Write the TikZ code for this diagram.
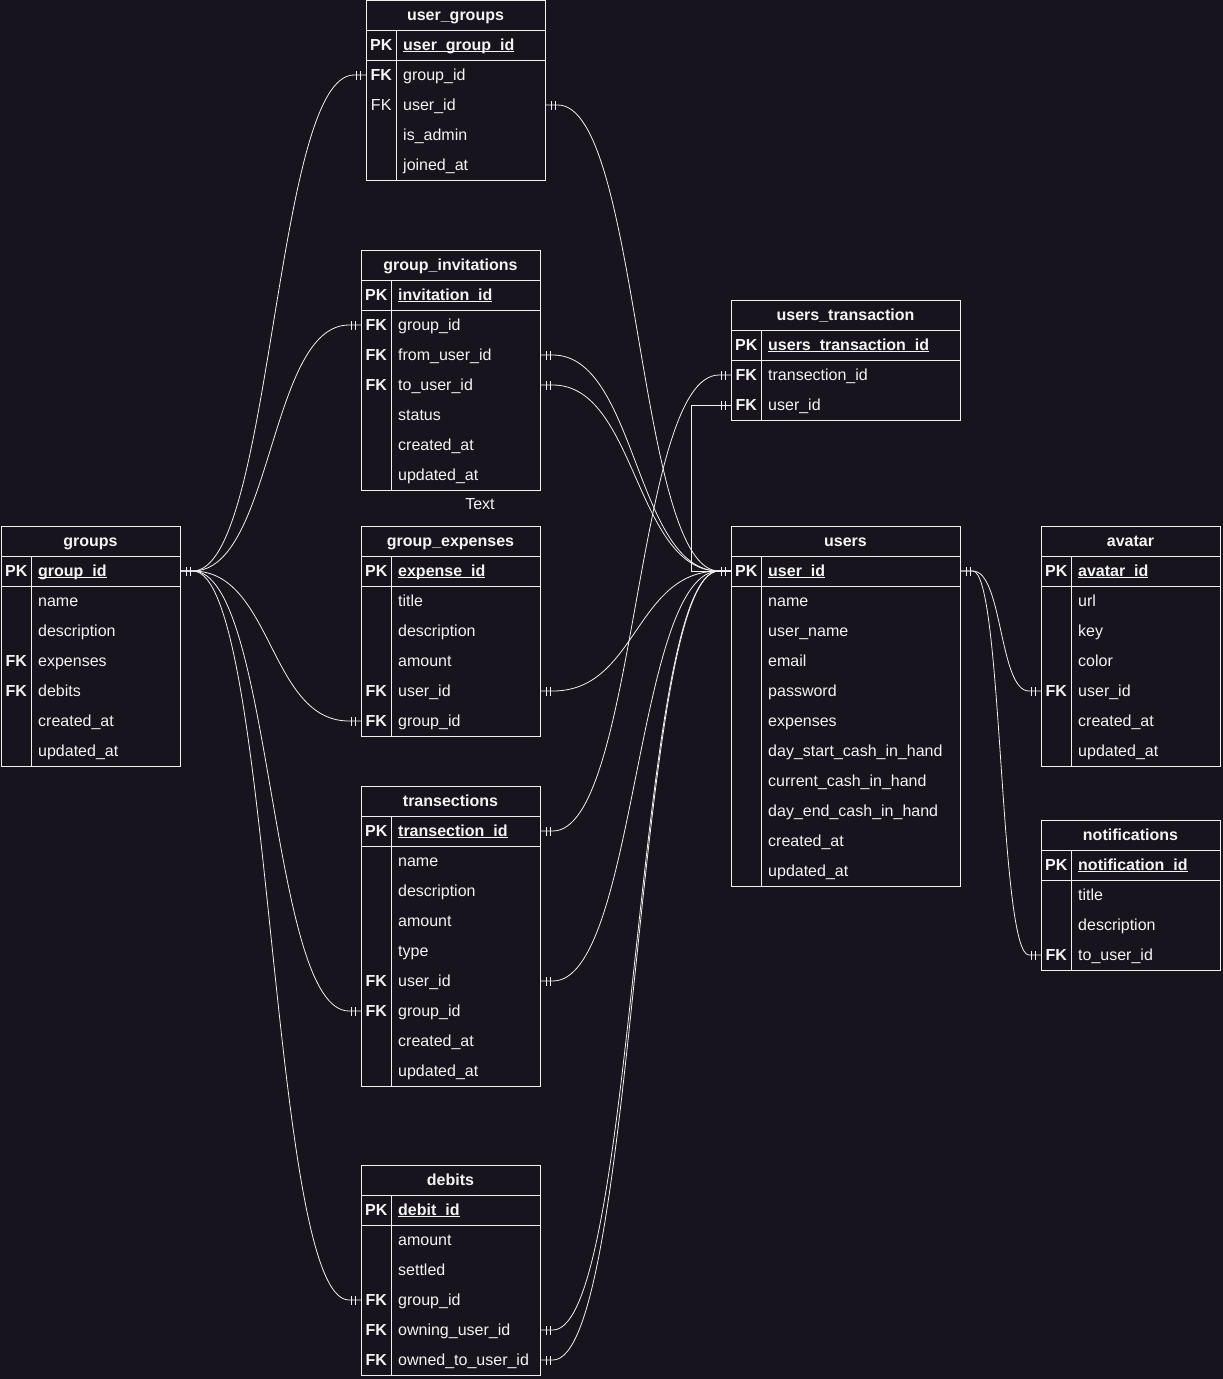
\documentclass[tikz,border=0pt]{standalone}
\usepackage{fontspec}
\setmainfont{Liberation Sans}
\usetikzlibrary{decorations.markings}
\definecolor{bgc}{HTML}{18141D}
\definecolor{linec}{HTML}{F0F0F0}
\definecolor{txtc}{HTML}{F4F4F4}
\newcommand{\erkey}[1]{\makebox[30pt]{\bfseries #1}\hspace{7pt}}
\newcommand{\ulkey}[1]{\underline{\smash{#1}}}
\begin{document}
\begin{tikzpicture}[x=1pt, y=-1pt,
    tbl/.style={draw=linec, line width=0.8pt, fill=bgc, anchor=north west, inner sep=0pt,
      path picture={
        \draw[linec, line width=0.8pt] ([yshift=-30pt]path picture bounding box.north west) -- ([yshift=-30pt]path picture bounding box.north east);
        \draw[linec, line width=0.8pt] ([yshift=-60pt]path picture bounding box.north west) -- ([yshift=-60pt]path picture bounding box.north east);
        \draw[linec, line width=0.8pt] ([xshift=30pt,yshift=-30pt]path picture bounding box.north west) -- ([xshift=30pt]path picture bounding box.south west);
      }},
    tblhead/.style={text=txtc, font=\bfseries\fontsize{16pt}{19pt}\selectfont, text height=12pt, text depth=2pt, inner sep=0pt},
    field/.style={anchor=west, text=txtc, font=\fontsize{16pt}{19pt}\selectfont, text height=12pt, text depth=2pt, inner sep=0pt},
    bar/.style={draw=linec, line width=0.8pt},
    rel/.style={draw=linec, line width=0.8pt, postaction={decorate},
      decoration={markings,
        mark=at position 6pt with {\draw[bar] (0,-4.5pt) -- (0,4.5pt);},
        mark=at position 10pt with {\draw[bar] (0,-4.5pt) -- (0,4.5pt);},
        mark=at position -6pt with {\draw[bar] (0,-4.5pt) -- (0,4.5pt);},
        mark=at position -10pt with {\draw[bar] (0,-4.5pt) -- (0,4.5pt);}}}
  ]

  \fill[bgc] (0,0) rectangle (1223,1379);

  % user_groups
  \node[tbl, minimum width=179pt, minimum height=180pt] (ugroups) at (366,0) {};
  \node[tblhead] (ug-t) at (455.5,15) {user\_groups};
  \node[field] (ug-pk) at (366,45) {\erkey{PK}\textbf{\ulkey{user\_group\_id}}};
  \node[field] (ug-gid) at (366,75) {\erkey{FK}group\_id};
  \node[field] (ug-uid) at (366,105) {\makebox[30pt]{FK}\hspace{7pt}user\_id};
  \node[field] (ug-admin) at (366,135) {\erkey{}is\_admin};
  \node[field] (ug-joined) at (366,165) {\erkey{}joined\_at};

  % group_invitations
  \node[tbl, minimum width=179pt, minimum height=240pt] (ginv) at (361,250) {};
  \node[tblhead] (gi-t) at (450.5,265) {group\_invitations};
  \node[field] (gi-pk) at (361,295) {\erkey{PK}\textbf{\ulkey{invitation\_id}}};
  \node[field] (gi-gid) at (361,325) {\erkey{FK}group\_id};
  \node[field] (gi-from) at (361,355) {\erkey{FK}from\_user\_id};
  \node[field] (gi-to) at (361,385) {\erkey{FK}to\_user\_id};
  \node[field] (gi-status) at (361,415) {\erkey{}status};
  \node[field] (gi-created) at (361,445) {\erkey{}created\_at};
  \node[field] (gi-updated) at (361,475) {\erkey{}updated\_at};
  \node[field, anchor=center] (txt) at (480,504) {Text};

  % groups
  \node[tbl, minimum width=179pt, minimum height=240pt] (groups) at (1,526) {};
  \node[tblhead] (gr-t) at (90.5,541) {groups};
  \node[field] (gr-pk) at (1,571) {\erkey{PK}\textbf{\ulkey{group\_id}}};
  \node[field] (gr-name) at (1,601) {\erkey{}name};
  \node[field] (gr-desc) at (1,631) {\erkey{}description};
  \node[field] (gr-exp) at (1,661) {\erkey{FK}expenses};
  \node[field] (gr-debits) at (1,691) {\erkey{FK}debits};
  \node[field] (gr-created) at (1,721) {\erkey{}created\_at};
  \node[field] (gr-updated) at (1,751) {\erkey{}updated\_at};

  % group_expenses
  \node[tbl, minimum width=179pt, minimum height=210pt] (gexp) at (361,526) {};
  \node[tblhead] (ge-t) at (450.5,541) {group\_expenses};
  \node[field] (ge-pk) at (361,571) {\erkey{PK}\textbf{\ulkey{expense\_id}}};
  \node[field] (ge-title) at (361,601) {\erkey{}title};
  \node[field] (ge-desc) at (361,631) {\erkey{}description};
  \node[field] (ge-amount) at (361,661) {\erkey{}amount};
  \node[field] (ge-uid) at (361,691) {\erkey{FK}user\_id};
  \node[field] (ge-gid) at (361,721) {\erkey{FK}group\_id};

  % transections
  \node[tbl, minimum width=179pt, minimum height=300pt] (trans) at (361,786) {};
  \node[tblhead] (tr-t) at (450.5,801) {transections};
  \node[field] (tr-pk) at (361,831) {\erkey{PK}\textbf{\ulkey{transection\_id}}};
  \node[field] (tr-name) at (361,861) {\erkey{}name};
  \node[field] (tr-desc) at (361,891) {\erkey{}description};
  \node[field] (tr-amount) at (361,921) {\erkey{}amount};
  \node[field] (tr-type) at (361,951) {\erkey{}type};
  \node[field] (tr-uid) at (361,981) {\erkey{FK}user\_id};
  \node[field] (tr-gid) at (361,1011) {\erkey{FK}group\_id};
  \node[field] (tr-created) at (361,1041) {\erkey{}created\_at};
  \node[field] (tr-updated) at (361,1071) {\erkey{}updated\_at};

  % debits
  \node[tbl, minimum width=179pt, minimum height=210pt] (debits) at (361,1165) {};
  \node[tblhead] (db-t) at (450.5,1180) {debits};
  \node[field] (db-pk) at (361,1210) {\erkey{PK}\textbf{\ulkey{debit\_id}}};
  \node[field] (db-amount) at (361,1240) {\erkey{}amount};
  \node[field] (db-settled) at (361,1270) {\erkey{}settled};
  \node[field] (db-gid) at (361,1300) {\erkey{FK}group\_id};
  \node[field] (db-owning) at (361,1330) {\erkey{FK}owning\_user\_id};
  \node[field] (db-owned) at (361,1360) {\erkey{FK}owned\_to\_user\_id};

  % users_transaction
  \node[tbl, minimum width=229pt, minimum height=120pt] (utrans) at (731,300) {};
  \node[tblhead] (ut-t) at (845.5,315) {users\_transaction};
  \node[field] (ut-pk) at (731,345) {\erkey{PK}\textbf{\ulkey{users\_transaction\_id}}};
  \node[field] (ut-tid) at (731,375) {\erkey{FK}transection\_id};
  \node[field] (ut-uid) at (731,405) {\erkey{FK}user\_id};

  % users
  \node[tbl, minimum width=229pt, minimum height=360pt] (users) at (731,526) {};
  \node[tblhead] (us-t) at (845.5,541) {users};
  \node[field] (us-pk) at (731,571) {\erkey{PK}\textbf{\ulkey{user\_id}}};
  \node[field] (us-name) at (731,601) {\erkey{}name};
  \node[field] (us-uname) at (731,631) {\erkey{}user\_name};
  \node[field] (us-email) at (731,661) {\erkey{}email};
  \node[field] (us-pass) at (731,691) {\erkey{}password};
  \node[field] (us-exp) at (731,721) {\erkey{}expenses};
  \node[field] (us-start) at (731,751) {\erkey{}day\_start\_cash\_in\_hand};
  \node[field] (us-current) at (731,781) {\erkey{}current\_cash\_in\_hand};
  \node[field] (us-end) at (731,811) {\erkey{}day\_end\_cash\_in\_hand};
  \node[field] (us-created) at (731,841) {\erkey{}created\_at};
  \node[field] (us-updated) at (731,871) {\erkey{}updated\_at};

  % avatar
  \node[tbl, minimum width=179pt, minimum height=240pt] (avatar) at (1041,526) {};
  \node[tblhead] (av-t) at (1130.5,541) {avatar};
  \node[field] (av-pk) at (1041,571) {\erkey{PK}\textbf{\ulkey{avatar\_id}}};
  \node[field] (av-url) at (1041,601) {\erkey{}url};
  \node[field] (av-key) at (1041,631) {\erkey{}key};
  \node[field] (av-color) at (1041,661) {\erkey{}color};
  \node[field] (av-uid) at (1041,691) {\erkey{FK}user\_id};
  \node[field] (av-created) at (1041,721) {\erkey{}created\_at};
  \node[field] (av-updated) at (1041,751) {\erkey{}updated\_at};

  % notifications
  \node[tbl, minimum width=179pt, minimum height=150pt] (notif) at (1041,820) {};
  \node[tblhead] (nt-t) at (1130.5,835) {notifications};
  \node[field] (nt-pk) at (1041,865) {\erkey{PK}\textbf{\ulkey{notification\_id}}};
  \node[field] (nt-title) at (1041,895) {\erkey{}title};
  \node[field] (nt-desc) at (1041,925) {\erkey{}description};
  \node[field] (nt-uid) at (1041,955) {\erkey{FK}to\_user\_id};

  % Relations from groups
  \draw[rel] (groups.east |- gr-pk) -- ++(12,0) .. controls +(80,0) and +(-80,0) .. ([xshift=-12pt]ugroups.west |- ug-gid) -- (ugroups.west |- ug-gid);
  \draw[rel] (groups.east |- gr-pk) -- ++(12,0) .. controls +(80,0) and +(-80,0) .. ([xshift=-12pt]ginv.west |- gi-gid) -- (ginv.west |- gi-gid);
  \draw[rel] (groups.east |- gr-pk) -- ++(12,0) .. controls +(80,0) and +(-80,0) .. ([xshift=-12pt]gexp.west |- ge-gid) -- (gexp.west |- ge-gid);
  \draw[rel] (groups.east |- gr-pk) -- ++(12,0) .. controls +(80,0) and +(-80,0) .. ([xshift=-12pt]trans.west |- tr-gid) -- (trans.west |- tr-gid);
  \draw[rel] (groups.east |- gr-pk) -- ++(12,0) .. controls +(80,0) and +(-80,0) .. ([xshift=-12pt]debits.west |- db-gid) -- (debits.west |- db-gid);

  % Relations to users
  \draw[rel] (ugroups.east |- ug-uid) -- ++(12,0) .. controls +(82,0) and +(-82,0) .. ([xshift=-12pt]users.west |- us-pk) -- (users.west |- us-pk);
  \draw[rel] (ginv.east |- gi-from) -- ++(12,0) .. controls +(84,0) and +(-84,0) .. ([xshift=-12pt]users.west |- us-pk) -- (users.west |- us-pk);
  \draw[rel] (ginv.east |- gi-to) -- ++(12,0) .. controls +(84,0) and +(-84,0) .. ([xshift=-12pt]users.west |- us-pk) -- (users.west |- us-pk);
  \draw[rel] (gexp.east |- ge-uid) -- ++(12,0) .. controls +(84,0) and +(-84,0) .. ([xshift=-12pt]users.west |- us-pk) -- (users.west |- us-pk);
  \draw[rel] (trans.east |- tr-uid) -- ++(12,0) .. controls +(84,0) and +(-84,0) .. ([xshift=-12pt]users.west |- us-pk) -- (users.west |- us-pk);
  \draw[rel] (debits.east |- db-owning) -- ++(12,0) .. controls +(84,0) and +(-84,0) .. ([xshift=-12pt]users.west |- us-pk) -- (users.west |- us-pk);
  \draw[rel] (debits.east |- db-owned) -- ++(12,0) .. controls +(84,0) and +(-84,0) .. ([xshift=-12pt]users.west |- us-pk) -- (users.west |- us-pk);
  \draw[rel] (trans.east |- tr-pk) -- ++(12,0) .. controls +(84,0) and +(-84,0) .. ([xshift=-12pt]utrans.west |- ut-tid) -- (utrans.west |- ut-tid);
  \draw[rel] (utrans.west |- ut-uid) -- ++(-40,0) |- (users.west |- us-pk);
  \draw[rel] (users.east |- us-pk) -- ++(12,0) .. controls +(30,0) and +(-30,0) .. ([xshift=-12pt]avatar.west |- av-uid) -- (avatar.west |- av-uid);
  \draw[rel] (users.east |- us-pk) -- ++(12,0) .. controls +(30,0) and +(-30,0) .. ([xshift=-12pt]notif.west |- nt-uid) -- (notif.west |- nt-uid);

\end{tikzpicture}
\end{document}
